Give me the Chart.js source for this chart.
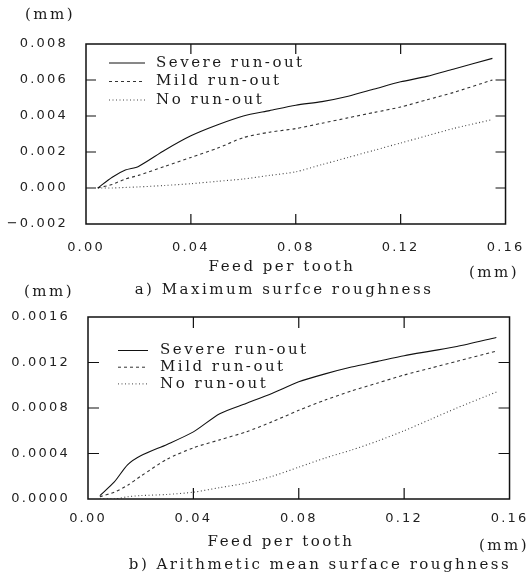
<!DOCTYPE html>
<html>
<head>
<meta charset="utf-8">
<script src="https://cdn.jsdelivr.net/npm/chart.js@4.4.1/dist/chart.umd.min.js"></script>
<style>
  html, body { margin: 0; padding: 0; background: #fff; }
  #wrap { position: relative; width: 528px; height: 578px; overflow: hidden; }
  #c1 { position: absolute; left: 0; top: 0; }
  #c2 { position: absolute; left: 0; top: 278px; }
</style>
</head>
<body>
<div id="wrap">
  <canvas id="c1" width="528" height="300"></canvas>
  <canvas id="c2" width="528" height="300"></canvas>
</div>
<script>
'use strict';

var seriesNames = ['Severe run-out', 'Mild run-out', 'No run-out'];

// a) Maximum surface roughness (mm) vs feed per tooth (mm)
var feedA = [0.0045, 0.01, 0.015, 0.02, 0.03, 0.04, 0.05, 0.06, 0.07, 0.08, 0.09, 0.10, 0.11, 0.12, 0.13, 0.14, 0.155];
var severeA = [0, 0.0006, 0.0010, 0.0012, 0.0021, 0.0029, 0.0035, 0.0040, 0.0043, 0.0046, 0.0048, 0.0051, 0.0055, 0.0059, 0.0062, 0.0066, 0.0072];
var mildA = [0, 0.0002, 0.0005, 0.0007, 0.0012, 0.0017, 0.0022, 0.0028, 0.0031, 0.0033, 0.0036, 0.0039, 0.0042, 0.0045, 0.0049, 0.0053, 0.0060];
var noneA = [0, 0, 0.00003, 0.00006, 0.00014, 0.00024, 0.00037, 0.0005, 0.0007, 0.0009, 0.0013, 0.0017, 0.0021, 0.0025, 0.0029, 0.0033, 0.0038];

// b) Arithmetic mean surface roughness
var feedB = [0.0045, 0.01, 0.015, 0.02, 0.03, 0.04, 0.05, 0.06, 0.07, 0.08, 0.09, 0.10, 0.11, 0.12, 0.13, 0.14, 0.155];
var severeB = [0.00003, 0.00015, 0.0003, 0.00038, 0.00048, 0.00059, 0.00075, 0.00084, 0.00093, 0.00103, 0.00110, 0.00116, 0.00121, 0.00126, 0.00130, 0.00134, 0.00142];
var mildB = [0.00002, 0.00006, 0.00012, 0.0002, 0.00035, 0.00045, 0.00052, 0.00059, 0.00068, 0.00078, 0.00087, 0.00095, 0.00102, 0.00109, 0.00115, 0.00121, 0.00130];
var noneB = [0, 0, 0.00002, 0.00003, 0.00004, 0.00006, 0.0001, 0.00014, 0.0002, 0.00028, 0.00036, 0.00043, 0.00051, 0.0006, 0.0007, 0.0008, 0.00094];

var xTicks = [0, 0.16, 0.04];            // min, max, step
var yTicksA = [-0.002, 0.008, 0.002];
var yTicksB = [0, 0.0016, 0.0004];

var serifFont = '15px "DejaVu Serif"';

function pts(xs, ys) {
  return xs.map(function (x, i) { return { x: x, y: ys[i] }; });
}

// box, inward ticks, legend and the free texts
var framePlugin = {
  id: 'frame',
  beforeDraw: function (chart) {
    // wide spacing like the old plotter lettering
    chart.ctx.letterSpacing = '2.2px';
  },
  afterDraw: function (chart, args, opts) {
    var ctx = chart.ctx, a = chart.chartArea, xs = chart.scales.x, ys = chart.scales.y;
    var tl = opts.tick;
    ctx.save();
    ctx.strokeStyle = '#111';
    ctx.lineWidth = 1.5;
    ctx.strokeRect(a.left, a.top, a.right - a.left, a.bottom - a.top);
    ctx.lineWidth = 1.2;
    ctx.beginPath();
    xs.ticks.forEach(function (t) {
      var p = xs.getPixelForValue(t.value);
      if (p <= a.left + 1 || p >= a.right - 1) return;
      ctx.moveTo(p, a.bottom); ctx.lineTo(p, a.bottom - tl);
      ctx.moveTo(p, a.top); ctx.lineTo(p, a.top + tl);
    });
    ys.ticks.forEach(function (t) {
      var p = ys.getPixelForValue(t.value);
      if (p <= a.top + 1 || p >= a.bottom - 1) return;
      ctx.moveTo(a.left, p); ctx.lineTo(a.left + tl, p);
      ctx.moveTo(a.right, p); ctx.lineTo(a.right - tl, p);
    });
    ctx.stroke();

    ctx.font = serifFont;
    ctx.letterSpacing = '2.5px';
    ctx.fillStyle = '#1a1a1a';
    ctx.textBaseline = 'middle';
    var lg = opts.legend;
    chart.data.datasets.forEach(function (ds, i) {
      var y = lg.y + i * lg.gap;
      ctx.strokeStyle = ds.borderColor;
      ctx.lineWidth = 1;
      ctx.setLineDash(ds.borderDash || []);
      ctx.beginPath();
      ctx.moveTo(lg.x0, y); ctx.lineTo(lg.x1, y);
      ctx.stroke();
      ctx.setLineDash([]);
      ctx.textAlign = 'left';
      ctx.fillText(ds.label, lg.tx, y);
    });
    ctx.textAlign = 'center';
    opts.texts.forEach(function (t) { ctx.fillText(t[0], t[1], t[2]); });
    ctx.restore();
  }
};

function makeChart(id, ser, yt, yDigits, geo) {
  var styles = [
    { color: '#111', dash: [] },
    { color: '#333', dash: [3, 3] },
    { color: '#444', dash: [1, 2.5] }
  ];
  return new Chart(document.getElementById(id).getContext('2d'), {
    type: 'line',
    data: {
      datasets: ser.map(function (d, i) {
        return {
          label: seriesNames[i],
          data: d,
          borderColor: styles[i].color,
          borderDash: styles[i].dash,
          borderWidth: 1.1,
          pointRadius: 0,
          tension: 0.25,
          fill: false
        };
      })
    },
    options: {
      responsive: false,
      animation: false,
      layout: { padding: { left: 0, right: geo.right, top: geo.top, bottom: 0 } },
      plugins: {
        legend: { display: false },
        tooltip: { enabled: false },
        frame: { tick: geo.tick, legend: geo.legend, texts: geo.texts }
      },
      scales: {
        x: {
          type: 'linear',
          min: xTicks[0], max: xTicks[1],
          grid: { display: false },
          border: { display: false },
          afterFit: function (s) { s.height = geo.xh; },
          ticks: {
            stepSize: xTicks[2],
            padding: geo.xpad,
            color: '#222',
            font: { family: 'DejaVu Sans', size: 13 },
            maxRotation: 0,
            callback: function (v) { return v.toFixed(2); }
          }
        },
        y: {
          type: 'linear',
          min: yt[0], max: yt[1],
          grid: { display: false },
          border: { display: false },
          afterFit: function (s) { s.width = geo.yw; },
          ticks: {
            stepSize: yt[2],
            padding: 10,
            color: '#222',
            font: { family: 'DejaVu Sans', size: 13 },
            callback: function (v) {
              if (Math.abs(v) < 1e-12) v = 0;
              return v.toFixed(yDigits).replace('-', '\u2212');
            }
          }
        }
      }
    },
    plugins: [framePlugin]
  });
}

makeChart('c1', [pts(feedA, severeA), pts(feedA, mildA), pts(feedA, noneA)], yTicksA, 3, {
  top: 44, right: 19, xh: 76, yw: 86, xpad: 8, tick: 10,
  legend: { y: 63, gap: 18.5, x0: 109, x1: 145, tx: 156 },
  texts: [
    ['(mm)', 50, 15],
    ['Feed per tooth', 282, 267],
    ['(mm)', 494, 273],
    ['a) Maximum surfce roughness', 284, 290]
  ]
});

makeChart('c2', [pts(feedB, severeB), pts(feedB, mildB), pts(feedB, noneB)], yTicksB, 4, {
  top: 39, right: 16, xh: 79, yw: 88, xpad: 4, tick: 11,
  legend: { y: 72.5, gap: 16.7, x0: 118, x1: 148, tx: 160 },
  texts: [
    ['(mm)', 49, 14.5],
    ['Feed per tooth', 281, 264],
    ['(mm)', 504, 268],
    ['b) Arithmetic mean surface roughness', 320, 287]
  ]
});
</script>
</body>
</html>
